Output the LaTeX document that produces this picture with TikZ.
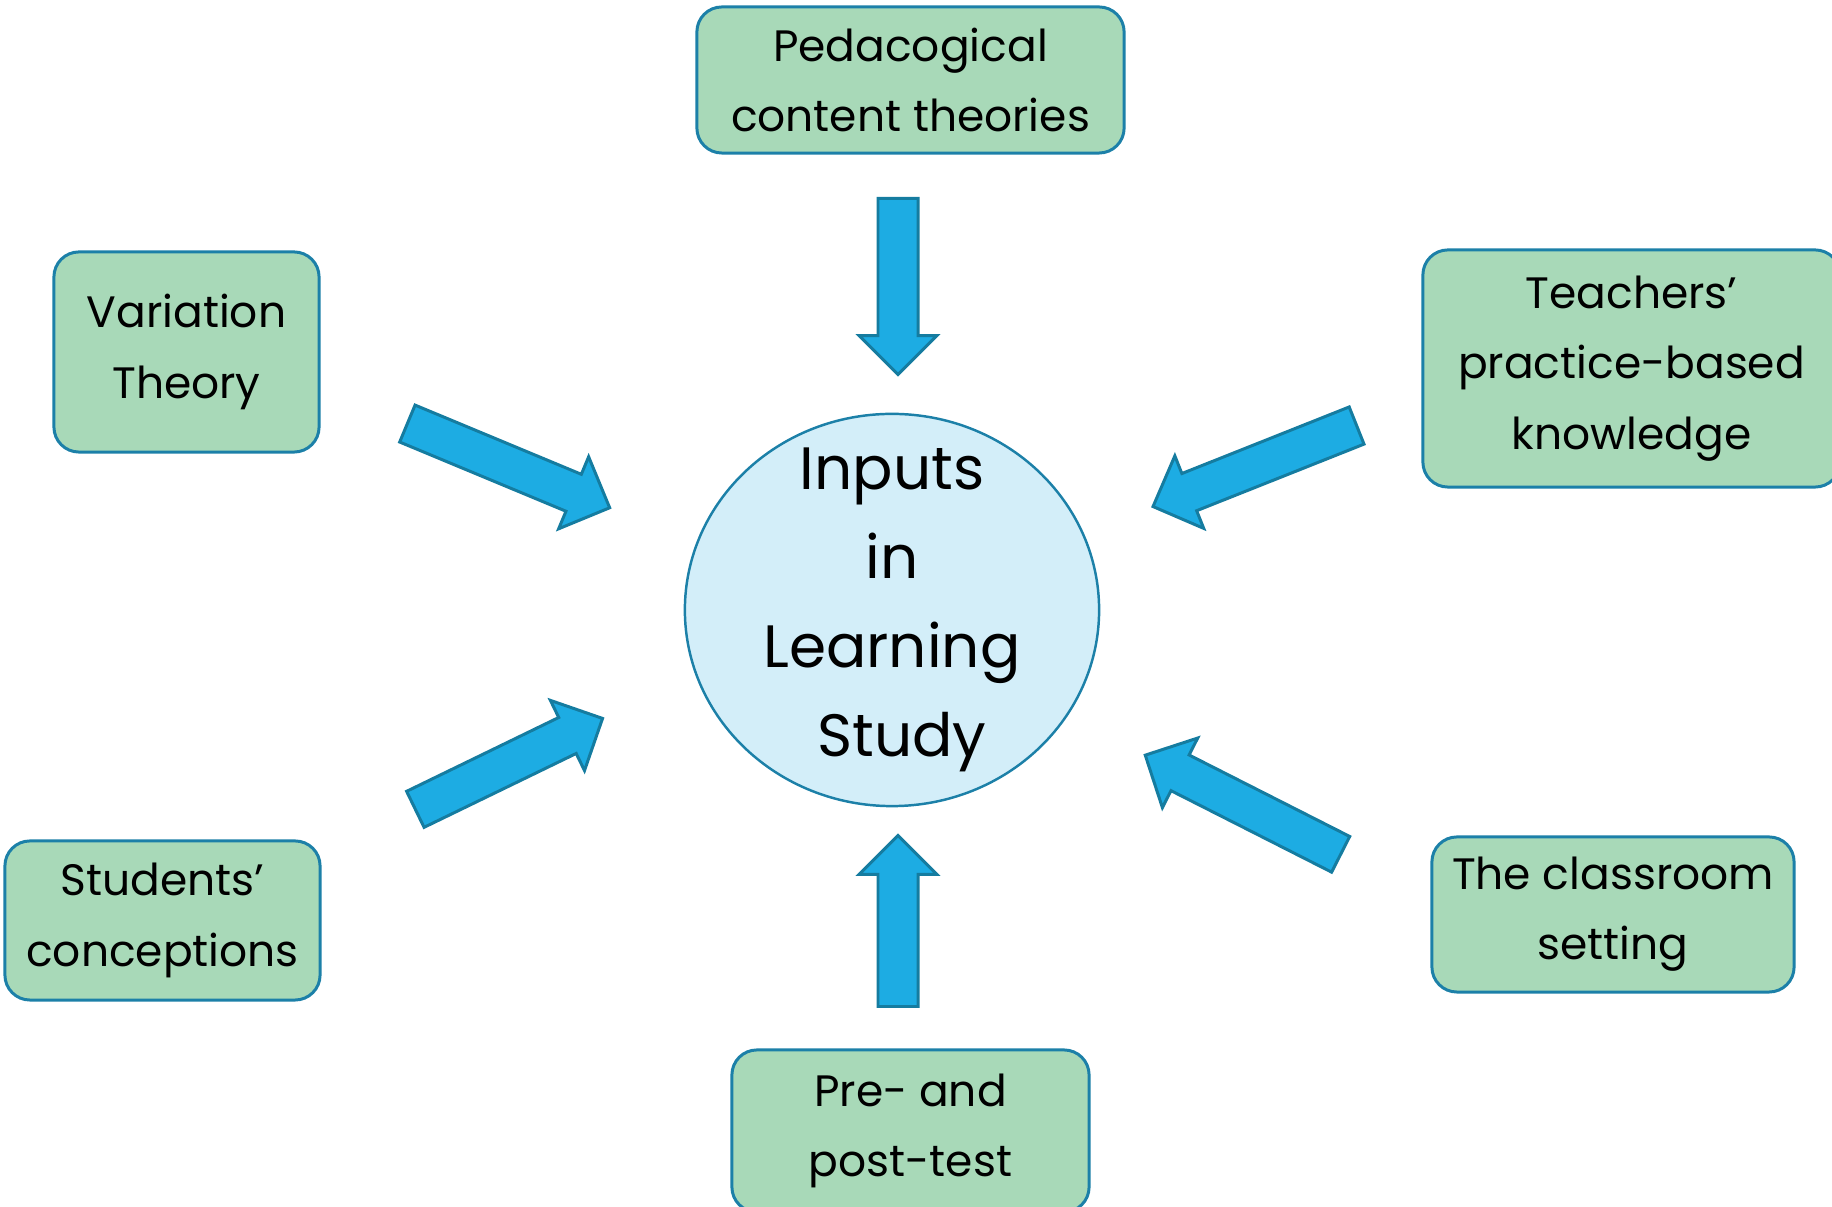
\documentclass[tikz,border=0pt]{standalone}
\usepackage{fontspec}
\setmainfont{Poppins}
\usetikzlibrary{shapes.geometric, shapes.arrows}
\definecolor{boxgreen}{RGB}{168,217,184}
\definecolor{boxline}{RGB}{28,128,168}
\definecolor{hubfill}{RGB}{211,238,249}
\definecolor{arrfill}{RGB}{29,172,227}
\definecolor{arrline}{RGB}{21,124,160}

\begin{document}
\begin{tikzpicture}[
    x=0.01cm, y=-0.01cm,
    box/.style={draw=boxline, fill=boxgreen, line width=0.85pt, rounded corners=0.25cm,
                align=center, inner sep=0pt, font=\fontsize{12.5}{20}\selectfont},
    hub/.style={ellipse, draw=boxline, fill=hubfill, line width=0.7pt,
                minimum width=4.14cm, minimum height=3.92cm, inner sep=0pt},
    hubtxt/.style={align=center, inner sep=0pt, font=\fontsize{17}{25.3}\selectfont},
    blockarr/.style={single arrow, draw=arrline, fill=arrfill, line width=0.85pt,
                     inner xsep=0pt, inner ysep=0.185cm, single arrow head extend=0.19cm,
                     single arrow tip angle=90, anchor=tail},
]
\useasboundingbox (0,0) rectangle (1832,1207);
\clip (0,0) rectangle (1832,1207);

\node[hub] (hub) at (892,610) {};
\node[hubtxt] (hubtext) at (hub.center) {Inputs\\in\\Learning\\\hspace{0.2cm}Study};

\node[box, minimum width=4.27cm, minimum height=1.46cm] (pct) at (910.5,80)
    {Pedacogical\\content theories};
\node[box, minimum width=2.65cm, minimum height=2.00cm] (vart) at (186.5,352)
    {Variation\\Theory};
\node[box, minimum width=4.17cm, minimum height=2.37cm] (tpk) at (1631.5,368.5)
    {Teachers’\\practice-based\\knowledge};
\node[box, minimum width=3.15cm, minimum height=1.59cm] (stu) at (162.5,920.5)
    {Students’\\conceptions};
\node[box, minimum width=3.62cm, minimum height=1.55cm] (cls) at (1613,914.5)
    {The classroom\\setting};
\node[box, minimum width=3.57cm, minimum height=1.62cm] (ppt) at (910.5,1131)
    {Pre- and\\post-test};

\node[blockarr, minimum height=1.76cm, rotate=-90] (aPct) at (898,197) {};
\node[blockarr, minimum height=1.71cm, rotate=90] (aPpt) at (898,1008) {};
\node[blockarr, minimum height=2.19cm, rotate=-22.6] (aVar) at (406,423) {};
\node[blockarr, minimum height=2.19cm, rotate=-158.3] (aTpk) at (1358,425) {};
\node[blockarr, minimum height=2.08cm, rotate=25.9] (aStu) at (414,810) {};
\node[blockarr, minimum height=2.19cm, rotate=153.1] (aCls) at (1342,855) {};

\end{tikzpicture}
\end{document}
